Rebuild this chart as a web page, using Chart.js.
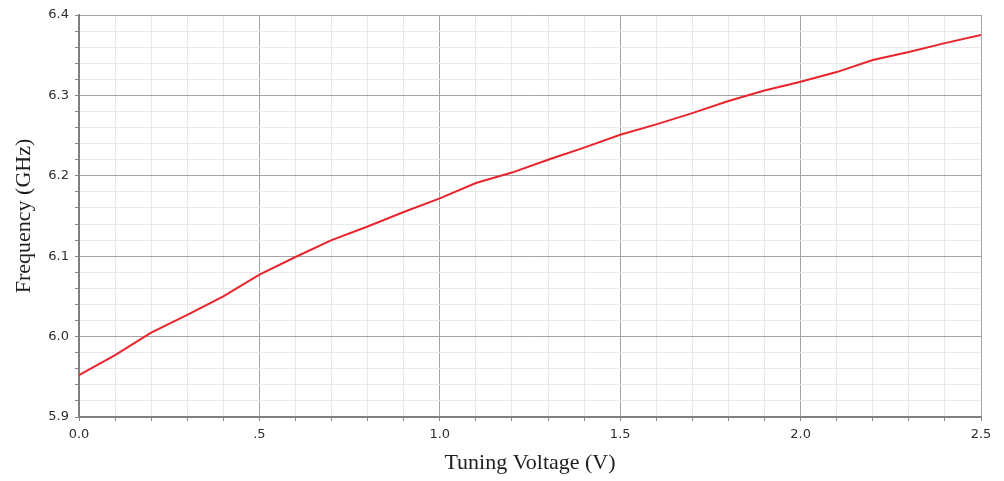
<!DOCTYPE html>
<html>
<head>
<meta charset="utf-8">
<script src="https://cdn.jsdelivr.net/npm/chart.js@4/dist/chart.umd.min.js"></script>
<style>
  body { margin: 0; background: #fff; }
  canvas { display: block; }
</style>
</head>
<body>
<canvas id="grafico" width="1004" height="481"></canvas>
<script>
// datos
const voltaje = [0.0, 0.1, 0.2, 0.3, 0.4, 0.5, 0.6, 0.7, 0.8, 0.9, 1.0, 1.1, 1.2,
                 1.3, 1.4, 1.5, 1.6, 1.7, 1.8, 1.9, 2.0, 2.1, 2.2, 2.3, 2.4, 2.5];
const frecuencia = [5.952, 5.977, 6.005, 6.027, 6.050, 6.077, 6.099, 6.120, 6.137,
                    6.155, 6.172, 6.191, 6.204, 6.220, 6.235, 6.251, 6.264, 6.278,
                    6.293, 6.306, 6.317, 6.329, 6.344, 6.354, 6.365, 6.375];
const etiquetasX = { 0: "0.0", 5: ".5", 10: "1.0", 15: "1.5", 20: "2.0", 25: "2.5" };

function cargaGrafico() {
    const puntos = voltaje.map((v, i) => ({ x: v, y: frecuencia[i] }));

    const esMayorX = (v) => Math.round(v * 10) % 5 === 0;
    const esMayorY = (v) => Math.round(v * 100) % 10 === 0;

    const config = {
        type: "line",
        data: {
            datasets: [{
                data: puntos,
                borderColor: "#e8242c",
                borderWidth: 2,
                pointRadius: 0,
                tension: 0,
                fill: false
            }]
        },
        options: {
            responsive: false,
            animation: false,
            layout: { padding: { top: 15, right: 23, left: 0, bottom: 0 } },
            plugins: { legend: { display: false }, tooltip: { enabled: false } },
            scales: {
                x: {
                    type: "linear",
                    min: 0,
                    max: 2.5,
                    afterFit: (s) => { s.height = 64; },
                    grid: {
                        color: (c) => esMayorX(c.tick.value) ? "#a3a3a3" : "#e9e9e9",
                        lineWidth: 1,
                        tickLength: 4,
                        tickColor: "#888"
                    },
                    border: { color: "#808080", width: 2 },
                    ticks: {
                        stepSize: 0.1,
                        autoSkip: false,
                        maxRotation: 0,
                        padding: 6,
                        color: "#2e2e2e",
                        font: { family: "DejaVu Sans", size: 13 },
                        callback: (v) => etiquetasX[Math.round(v * 10)] || ""
                    },
                    title: {
                        display: true,
                        text: "Tuning Voltage (V)",
                        color: "#1e1e1e",
                        font: { family: "Liberation Serif", size: 22 },
                        padding: { top: 0, bottom: 5 }
                    }
                },
                y: {
                    min: 5.9,
                    max: 6.4,
                    afterFit: (s) => { s.width = 79; },
                    grid: {
                        color: (c) => esMayorY(c.tick.value) ? "#a3a3a3" : "#e9e9e9",
                        lineWidth: 1,
                        tickLength: 4,
                        tickColor: "#888"
                    },
                    border: { color: "#808080", width: 2 },
                    ticks: {
                        stepSize: 0.02,
                        autoSkip: false,
                        padding: 6,
                        color: "#2e2e2e",
                        font: { family: "DejaVu Sans", size: 13 },
                        callback: (v) => esMayorY(v) ? v.toFixed(1) : ""
                    },
                    title: {
                        display: true,
                        text: "Frequency (GHz)",
                        color: "#1e1e1e",
                        font: { family: "Liberation Serif", size: 22 },
                        padding: { top: 11, bottom: 0 }
                    }
                }
            }
        }
    };

    const ctx = document.getElementById("grafico").getContext("2d");
    new Chart(ctx, config);
}

window.onload = cargaGrafico;
</script>
</body>
</html>
